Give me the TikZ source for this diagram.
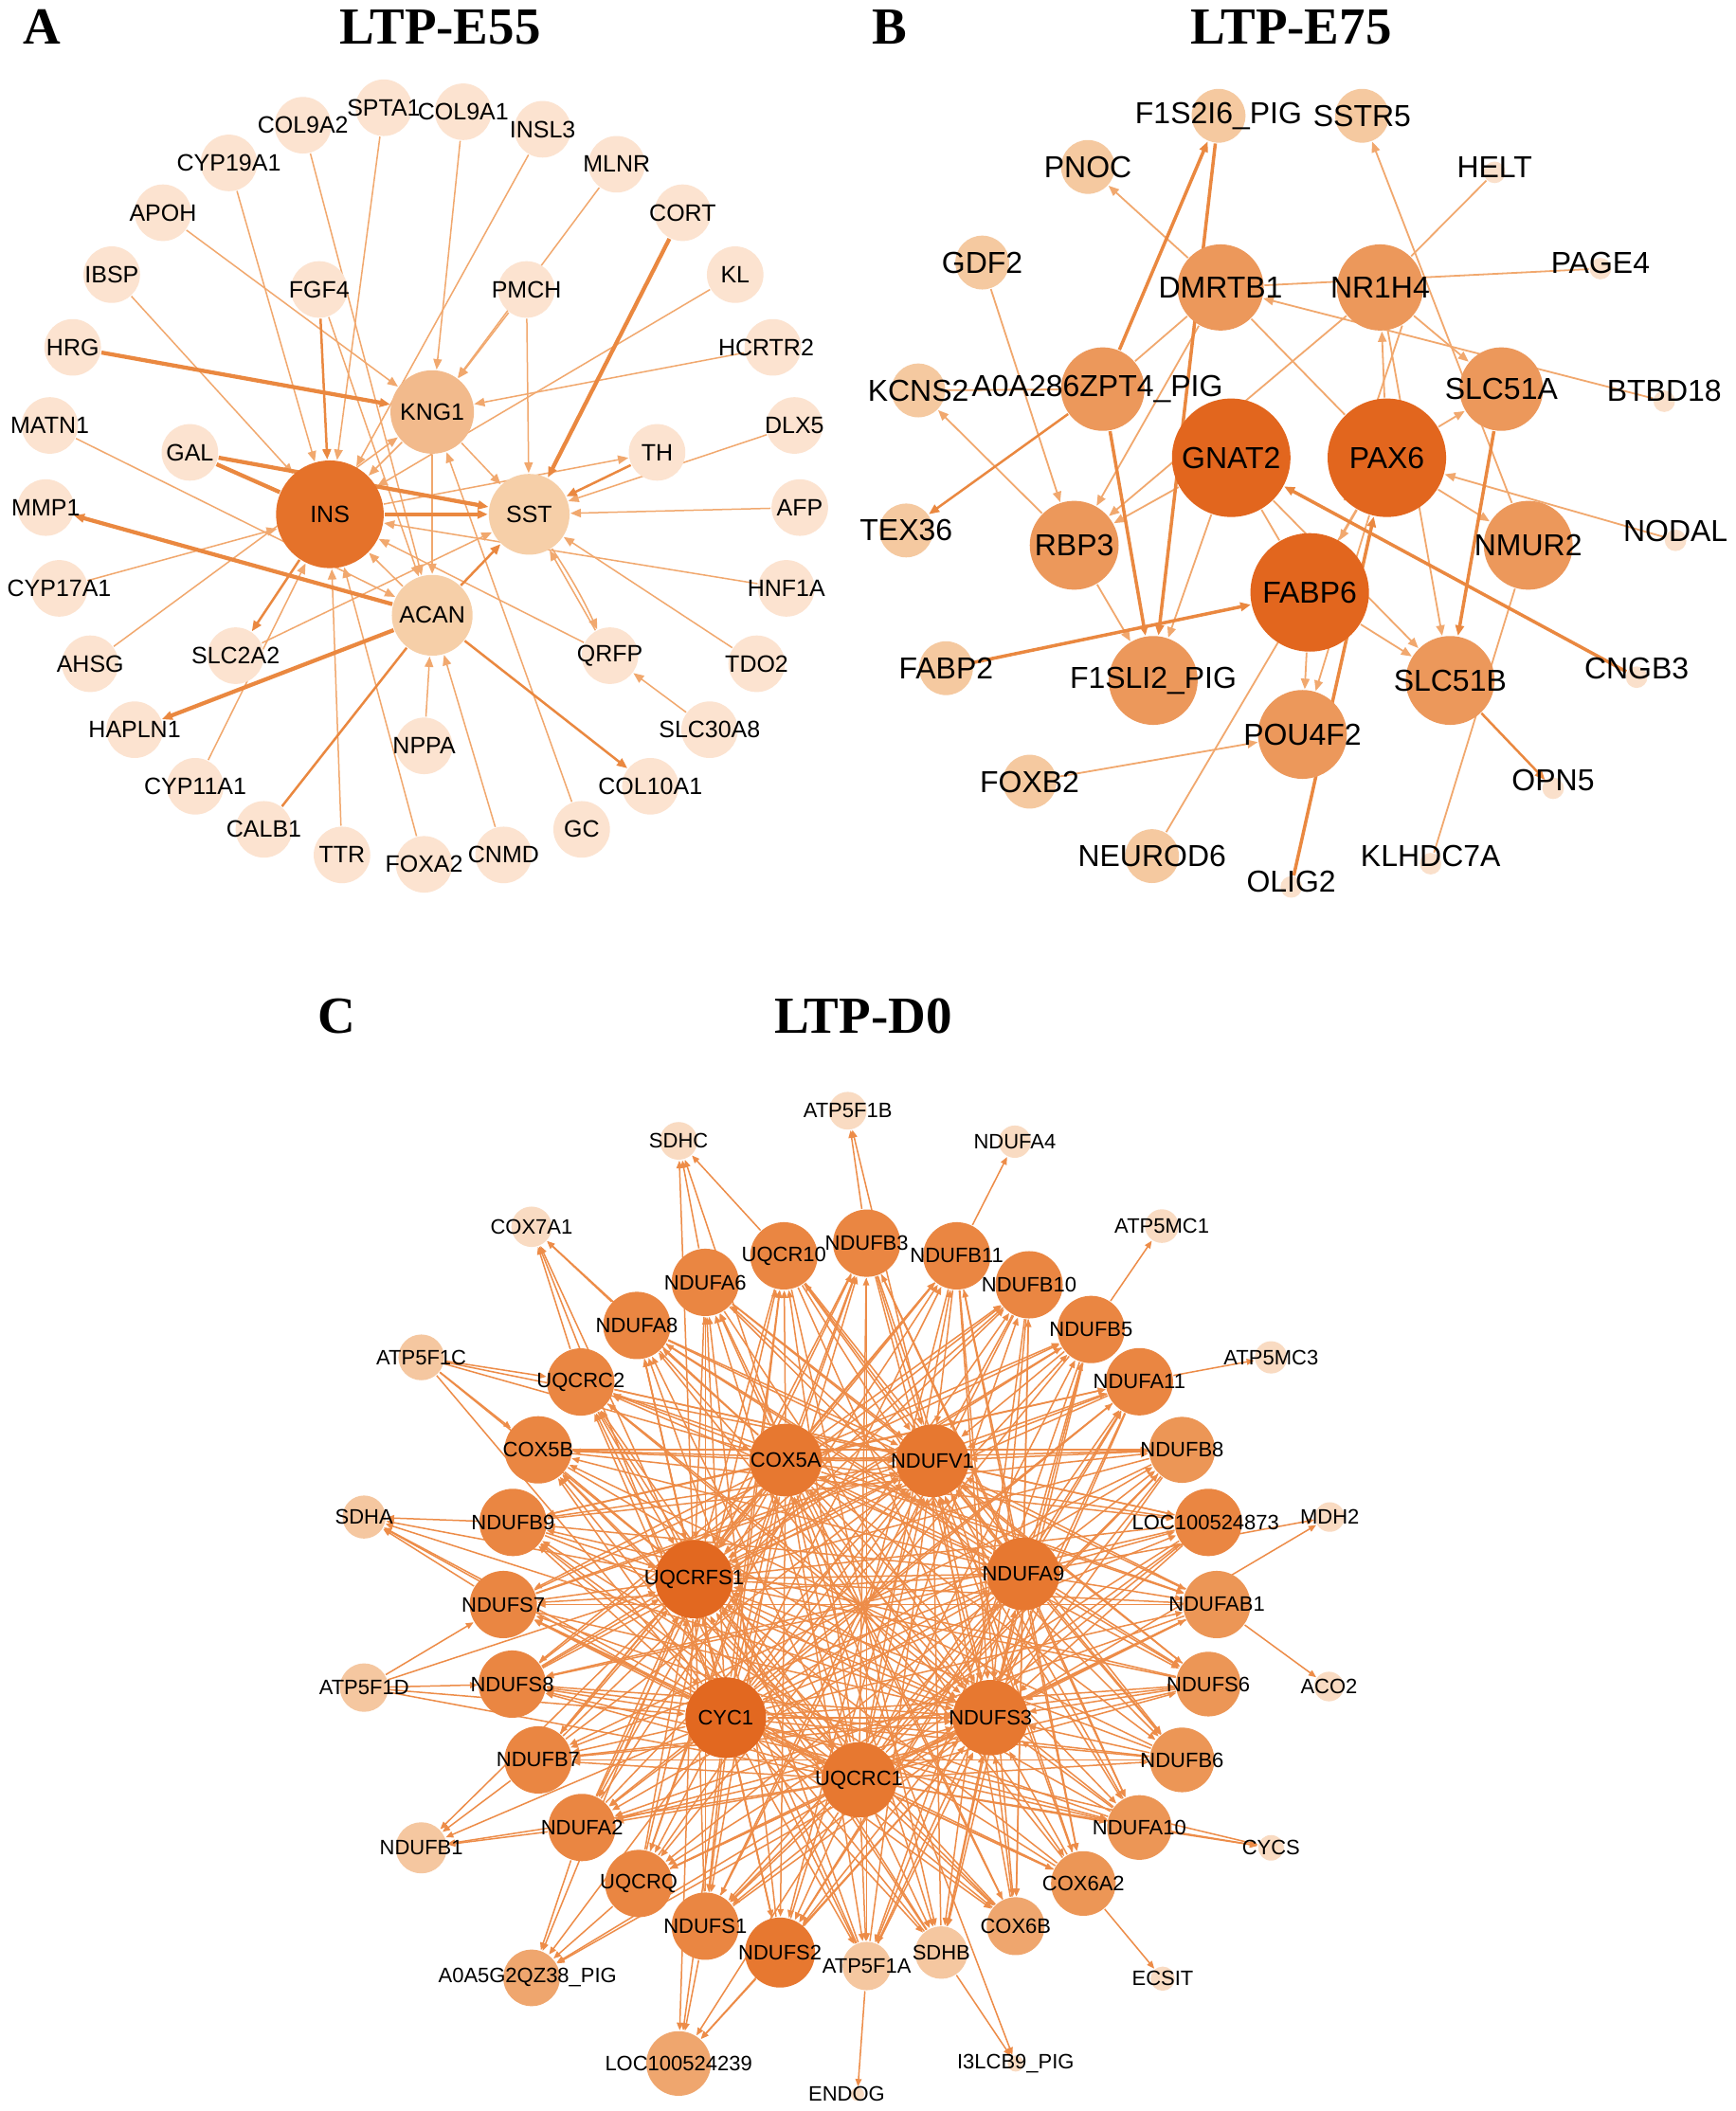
\documentclass[tikz,border=0pt]{standalone}
\usepackage{fontspec}
\setmainfont{Liberation Serif}
\setsansfont{Liberation Sans}
\usetikzlibrary{arrows.meta}
\pgfdeclarelayer{bg}\pgfdeclarelayer{fg}\pgfsetlayers{bg,main,fg}
\definecolor{aIn}{RGB}{229,114,42}
\definecolor{aKn}{RGB}{242,186,140}
\definecolor{aSs}{RGB}{246,207,168}
\definecolor{aSm}{RGB}{252,227,208}
\definecolor{bDk}{RGB}{226,102,30}
\definecolor{bMd}{RGB}{236,152,91}
\definecolor{bLt}{RGB}{245,201,160}
\definecolor{bPl}{RGB}{250,224,203}
\definecolor{cD1}{RGB}{226,104,32}
\definecolor{cD2}{RGB}{231,120,48}
\definecolor{cMd}{RGB}{234,134,66}
\definecolor{cML}{RGB}{236,150,86}
\definecolor{cLt}{RGB}{239,166,110}
\definecolor{cLL}{RGB}{245,199,160}
\definecolor{cPl}{RGB}{249,219,194}
\definecolor{eLt}{RGB}{241,168,110}
\definecolor{eDk}{RGB}{234,136,64}
\definecolor{ecC}{RGB}{237,140,72}
\tikzset{
 lA/.style={font=\sffamily\fontsize{5}{6}\selectfont,inner sep=0pt},
 lB/.style={font=\sffamily\fontsize{6.4}{7}\selectfont,inner sep=0pt},
 lC/.style={font=\sffamily\fontsize{4.4}{5}\selectfont,inner sep=0pt},
 ttl/.style={font=\fontsize{11}{12}\selectfont\bfseries,inner sep=0pt},
 eA/.style={draw=eLt,line width=0.3pt},
 eAm/.style={draw=eDk,line width=0.5pt},
 eAk/.style={draw=eDk,line width=0.85pt},
 ar/.style={-{Triangle[length=2.2pt,width=1.8pt]}},
 eC/.style={draw=ecC,line width=0.3pt,-{Triangle[length=1.6pt,width=1.3pt]}},
}
\newcommand\gnd[7]{%
 \node[circle,inner sep=0pt,minimum size={2*#4*0.01cm},fill=#5] (#1) at (#2,#3) {};%
 \begin{pgfonlayer}{fg}\node[#7] at (#1.center) {#6};\end{pgfonlayer}}
\begin{document}
\begin{tikzpicture}[x=0.01cm,y=-0.01cm]
\begin{pgfonlayer}{bg}\fill[white] (0,0) rectangle (1289,1568);\end{pgfonlayer}
\useasboundingbox (0,0) rectangle (1289,1568);
% titles
\node[ttl] (tA) at (31,20) {A};
\node[ttl] (tAt) at (327,20) {LTP-E55};
\node[ttl] (tB) at (661,20) {B};
\node[ttl] (tBt) at (959,20) {LTP-E75};
\node[ttl] (tC) at (250,755) {C};
\node[ttl] (tCt) at (641,755) {LTP-D0};
% ---------------- panel A nodes
\gnd{aSPT}{285}{80}{21}{aSm}{SPTA1}{lA}
\gnd{aC91}{344}{83}{21}{aSm}{COL9A1}{lA}
\gnd{aC92}{225}{93}{21}{aSm}{COL9A2}{lA}
\gnd{aINSL}{403}{96}{21}{aSm}{INSL3}{lA}
\gnd{aC19}{170}{121}{21}{aSm}{CYP19A1}{lA}
\gnd{aMLNR}{458}{122}{21}{aSm}{MLNR}{lA}
\gnd{aAPOH}{121}{158}{21}{aSm}{APOH}{lA}
\gnd{aCORT}{507}{158}{21}{aSm}{CORT}{lA}
\gnd{aIBSP}{83}{204}{21}{aSm}{IBSP}{lA}
\gnd{aKL}{546}{204}{21}{aSm}{KL}{lA}
\gnd{aFGF}{237}{215}{21}{aSm}{FGF4}{lA}
\gnd{aPMCH}{391}{215}{21}{aSm}{PMCH}{lA}
\gnd{aHRG}{54}{258}{21}{aSm}{HRG}{lA}
\gnd{aHCR}{574}{258}{21}{aSm}{HCRTR2}{lA,xshift=-0.05cm}
\gnd{aKNG}{321}{306}{31}{aKn}{KNG1}{lA}
\gnd{aMATN}{37}{316}{21}{aSm}{MATN1}{lA}
\gnd{aDLX}{590}{316}{21}{aSm}{DLX5}{lA}
\gnd{aGAL}{141}{336}{21}{aSm}{GAL}{lA}
\gnd{aTH}{488}{336}{21}{aSm}{TH}{lA}
\gnd{aINS}{245}{382}{40}{aIn}{INS}{lA}
\gnd{aSST}{393}{382}{30}{aSs}{SST}{lA}
\gnd{aMMP}{34}{377}{21}{aSm}{MMP1}{lA}
\gnd{aAFP}{594}{377}{21}{aSm}{AFP}{lA}
\gnd{aC17}{44}{437}{21}{aSm}{CYP17A1}{lA}
\gnd{aHNF}{584}{437}{21}{aSm}{HNF1A}{lA}
\gnd{aACAN}{321}{457}{30}{aSs}{ACAN}{lA}
\gnd{aAHSG}{67}{493}{21}{aSm}{AHSG}{lA}
\gnd{aSLC2}{175}{487}{21}{aSm}{SLC2A2}{lA}
\gnd{aQRFP}{453}{487}{21}{aSm}{QRFP}{lA}
\gnd{aTDO}{562}{493}{21}{aSm}{TDO2}{lA}
\gnd{aHAP}{100}{542}{21}{aSm}{HAPLN1}{lA}
\gnd{aNPPA}{315}{554}{21}{aSm}{NPPA}{lA}
\gnd{aS30}{527}{542}{21}{aSm}{SLC30A8}{lA}
\gnd{aC11}{145}{584}{21}{aSm}{CYP11A1}{lA}
\gnd{aC10}{483}{584}{21}{aSm}{COL10A1}{lA}
\gnd{aCALB}{196}{616}{21}{aSm}{CALB1}{lA}
\gnd{aGC}{432}{616}{21}{aSm}{GC}{lA}
\gnd{aTTR}{254}{635}{21}{aSm}{TTR}{lA}
\gnd{aFOX}{315}{642}{21}{aSm}{FOXA2}{lA}
\gnd{aCNMD}{374}{635}{21}{aSm}{CNMD}{lA}
% ---------------- panel B nodes
\gnd{bF1S2}{905}{86}{20}{bLt}{F1S2I6\_PIG}{lB}
\gnd{bSSTR5}{1011.6}{86}{20}{bLt}{SSTR5}{lB}
\gnd{bPNOC}{808}{124}{20}{bLt}{PNOC}{lB}
\gnd{bHELT}{1110}{128}{8}{bPl}{HELT}{lB,yshift=0.04cm}
\gnd{bGDF2}{729.5}{195}{20}{bLt}{GDF2}{lB}
\gnd{bPAGE4}{1188.6}{199.5}{8}{bPl}{PAGE4}{lB,yshift=0.045cm}
\gnd{bDMR}{906.5}{213.5}{32}{bMd}{DMRTB1}{lB}
\gnd{bNR1}{1025}{213.5}{32}{bMd}{NR1H4}{lB}
\gnd{bKCNS2}{682}{290}{20}{bLt}{KCNS2}{lB}
\gnd{bA0A}{819}{289}{31}{bMd}{A0A286ZPT4\_PIG}{lB,xshift=-0.04cm}
\gnd{bS51A}{1115}{289}{31}{bMd}{SLC51A}{lB}
\gnd{bBTBD}{1236}{298}{8}{bPl}{BTBD18}{lB,yshift=0.08cm}
\gnd{bGNAT}{914.4}{340}{44}{bDk}{GNAT2}{lB}
\gnd{bPAX}{1030}{340}{44}{bDk}{PAX6}{lB}
\gnd{bTEX}{673}{394}{20}{bLt}{TEX36}{lB}
\gnd{bRBP3}{797.8}{405}{33}{bMd}{RBP3}{lB}
\gnd{bNMUR}{1135}{405}{33}{bMd}{NMUR2}{lB}
\gnd{bNODAL}{1244.4}{401.3}{8}{bPl}{NODAL}{lB,yshift=0.07cm}
\gnd{bFABP6}{972.7}{440}{44}{bDk}{FABP6}{lB}
\gnd{bFABP2}{702.6}{496.3}{20}{bLt}{FABP2}{lB}
\gnd{bF1SLI}{856.5}{505.4}{33}{bMd}{F1SLI2\_PIG}{lB}
\gnd{bS51B}{1077}{505.4}{33}{bMd}{SLC51B}{lB}
\gnd{bCNGB}{1215.5}{503}{8}{bPl}{CNGB3}{lB,yshift=0.067cm}
\gnd{bPOU}{967.3}{545.5}{33}{bMd}{POU4F2}{lB}
\gnd{bFOXB}{764.7}{580.6}{20}{bLt}{FOXB2}{lB}
\gnd{bOPN5}{1153.5}{585.5}{8}{bPl}{OPN5}{lB,yshift=0.06cm}
\gnd{bNEU}{855.6}{635.9}{20}{bLt}{NEUROD6}{lB}
\gnd{bKLH}{1062.5}{641.5}{8}{bPl}{KLHDC7A}{lB,yshift=0.055cm}
\gnd{bOLIG}{959}{658.8}{8}{bPl}{OLIG2}{lB,yshift=0.042cm}
% ---------------- panel C nodes
\gnd{cATPb}{629.6}{825}{14}{cPl}{ATP5F1B}{lC}
\gnd{cSDHC}{504}{847.4}{14}{cPl}{SDHC}{lC}
\gnd{cA4}{753.7}{848}{12}{cPl}{NDUFA4}{lC}
\gnd{cX7}{394.8}{911.2}{15}{cPl}{COX7A1}{lC}
\gnd{cMC1}{862.9}{910.7}{12.5}{cPl}{ATP5MC1}{lC}
\gnd{cR10}{582.2}{932.8}{25}{cMd}{UQCR10}{lC}
\gnd{cB3}{643.7}{923.4}{25}{cMd}{NDUFB3}{lC}
\gnd{cB11}{710.6}{932.8}{25}{cMd}{NDUFB11}{lC}
\gnd{cA6}{523.8}{952.5}{25}{cMd}{NDUFA6}{lC}
\gnd{cB10}{764.3}{954.3}{25}{cMd}{NDUFB10}{lC}
\gnd{cA8}{473}{984.5}{25}{cMd}{NDUFA8}{lC}
\gnd{cB5}{810.3}{987.5}{25}{cMd}{NDUFB5}{lC}
\gnd{cATPc}{312.9}{1008.2}{17}{cLL}{ATP5F1C}{lC}
\gnd{cMC3}{944}{1008.2}{12}{cPl}{ATP5MC3}{lC}
\gnd{cRC2}{431.3}{1026.5}{25}{cMd}{UQCRC2}{lC}
\gnd{cA11}{846.2}{1026.3}{25}{cMd}{NDUFA11}{lC}
\gnd{cX5b}{399.7}{1076.9}{25}{cMd}{COX5B}{lC}
\gnd{cX5a}{583.6}{1084.5}{27}{cD2}{COX5A}{lC}
\gnd{cV1}{692.5}{1085}{27}{cD2}{NDUFV1}{lC}
\gnd{cB8}{877.9}{1076.9}{24.5}{cML}{NDUFB8}{lC}
\gnd{cSDHA}{270.4}{1126.8}{16}{cLL}{SDHA}{lC}
\gnd{cB9}{381}{1130.8}{25}{cMd}{NDUFB9}{lC}
\gnd{cL873}{897.4}{1130.8}{25}{cMd}{LOC100524873}{lC,xshift=-0.02cm}
\gnd{cMDH}{987.6}{1126.8}{11}{cPl}{MDH2}{lC}
\gnd{cFS1}{515.5}{1173}{29}{cD1}{UQCRFS1}{lC}
\gnd{cA9}{760}{1169}{27}{cD2}{NDUFA9}{lC}
\gnd{cS7}{373.8}{1191.8}{25}{cMd}{NDUFS7}{lC}
\gnd{cAB1}{903.7}{1191.8}{25}{cML}{NDUFAB1}{lC}
\gnd{cS8}{380.4}{1250.9}{25}{cMd}{NDUFS8}{lC}
\gnd{cATPd}{270.4}{1253.5}{18}{cLL}{ATP5F1D}{lC}
\gnd{cS6}{897.4}{1250.9}{24}{cML}{NDUFS6}{lC}
\gnd{cACO}{987}{1252.7}{11}{cPl}{ACO2}{lC}
\gnd{cC1}{539}{1275.8}{30}{cD1}{CYC1}{lC}
\gnd{cS3}{735.6}{1275.8}{28}{cD2}{NDUFS3}{lC}
\gnd{cB7}{399.7}{1307.2}{25}{cMd}{NDUFB7}{lC}
\gnd{cB6}{877.9}{1307.2}{24}{cML}{NDUFB6}{lC}
\gnd{cRC1}{638}{1322}{28}{cD2}{UQCRC1}{lC}
\gnd{cA2}{432.2}{1357.4}{25}{cMd}{NDUFA2}{lC}
\gnd{cA10}{846.2}{1357.4}{24}{cML}{NDUFA10}{lC}
\gnd{cB1}{312.9}{1372.5}{19}{cLL}{NDUFB1}{lC}
\gnd{cCYCS}{944}{1372.5}{9.5}{cPl}{CYCS}{lC}
\gnd{cRQ}{474.4}{1399}{25}{cMd}{UQCRQ}{lC}
\gnd{cX6a}{804.6}{1399}{24}{cML}{COX6A2}{lC}
\gnd{cS1}{523.8}{1430.7}{25}{cMd}{NDUFS1}{lC}
\gnd{cX6b}{754.3}{1430.7}{21.5}{cLt}{COX6B}{lC}
\gnd{cS2}{579.3}{1450.3}{26}{cD2}{NDUFS2}{lC}
\gnd{cSDHB}{699.1}{1450.3}{19.5}{cLL}{SDHB}{lC}
\gnd{cATPa}{643.7}{1460.3}{18}{cLL}{ATP5F1A}{lC}
\gnd{cQZ}{394.8}{1469.1}{21}{cLt}{A0A5G2QZ38\_PIG}{lC,xshift=-0.03cm}
\gnd{cECS}{863.5}{1469.7}{9}{cPl}{ECSIT}{lC}
\gnd{cL239}{504}{1532.7}{24}{cLt}{LOC100524239}{lC}
\gnd{cI3}{754.3}{1532.7}{6}{cPl}{I3LCB9\_PIG}{lC}
\gnd{cEND}{636.8}{1555.5}{5}{cPl}{ENDOG}{lC,xshift=-0.08cm}
% ---------------- edges
\begin{pgfonlayer}{bg}
% panel A
\foreach \s/\t in {aAPOH/aKNG,aIBSP/aINS,aC19/aINS,aC92/aACAN,aSPT/aINS,aC91/aKNG,aINSL/aINS,aMLNR/aKNG,aFGF/aACAN,aPMCH/aSST,aPMCH/aKNG,aHCR/aKNG,aKL/aINS,aDLX/aSST,aINS/aTH,aMATN/aACAN,aC17/aINS,aAHSG/aKNG,aSLC2/aSST,aC11/aINS,aTTR/aINS,aFOX/aINS,aNPPA/aACAN,aKNG/aACAN,aCNMD/aACAN,aGC/aKNG,aS30/aQRFP,aQRFP/aSST,aTDO/aSST,aHNF/aINS,aAFP/aSST,aACAN/aINS,aQRFP/aINS,aKNG/aINS,aKNG/aSST}
 \draw[eA,ar] (\s) -- (\t);
\draw[eA,ar] (aSST) to[bend left=4] (aQRFP);
\foreach \s/\t in {aACAN/aC10,aACAN/aSST,aINS/aSLC2,aFGF/aINS,aTH/aSST}
 \draw[eAm,ar] (\s) -- (\t);
\draw[eAm] (aCALB) -- (aACAN);
\foreach \s/\t in {aHRG/aKNG,aCORT/aSST,aGAL/aSST,aINS/aSST,aACAN/aMMP,aACAN/aHAP}
 \draw[eAk,ar] (\s) -- (\t);
\draw[eAk] (aGAL) -- (aINS);
% panel B
\foreach \s/\t in {bDMR/bPNOC,bNMUR/bSSTR5,bBTBD/bDMR,bNR1/bS51A,bNR1/bRBP3,bPAX/bNR1,bRBP3/bKCNS2,bGDF2/bRBP3,bPAX/bS51A,bNR1/bS51B,bNODAL/bPAX,bPAX/bNMUR,bFABP6/bS51B,bGNAT/bS51B,bFABP6/bPOU,bPAX/bPOU,bFOXB/bPOU,bRBP3/bF1SLI,bGNAT/bRBP3,bPAX/bFABP6,bGNAT/bF1SLI,bDMR/bRBP3}
 \draw[eA,line width=0.36pt,ar] (\s) -- (\t);
\foreach \s/\t in {bHELT/bNR1,bPAGE4/bDMR,bDMR/bA0A,bDMR/bPAX,bKCNS2/bA0A,bNEU/bPAX,bKLH/bNMUR,bGNAT/bFABP6}
 \draw[eA,line width=0.36pt] (\s) -- (\t);
\draw[eA,line width=0.36pt] (bPAX.225) -- (bNR1.300);
\foreach \s/\t in {bS51B/bOPN5,bA0A/bTEX}
 \draw[eAm,ar] (\s) -- (\t);
\foreach \s/\t in {bA0A/bF1S2,bF1S2/bF1SLI,bA0A/bF1SLI,bFABP2/bFABP6,bCNGB/bGNAT,bS51A/bS51B,bOLIG/bPAX}
 \draw[eAk,line width=0.7pt,ar] (\s) -- (\t);
% panel C hubs to ring
\foreach \h in {cC1,cRC1,cA9,cX5a}{
 \foreach \r in {cR10,cB3,cB11,cB10,cB5,cA11,cB8,cL873,cAB1,cS6,cB6,cA10,cX6a,cX6b,cSDHB,cATPa,cS2,cS1,cRQ,cA2,cB7,cS8,cS7,cB9,cX5b,cRC2,cA8,cA6}
  \draw[eC] (\h) -- (\r);
}
\foreach \h in {cFS1,cS3,cV1}{
 \foreach \r in {cR10,cB3,cB11,cB10,cB5,cA11,cB8,cL873,cAB1,cS6,cB6,cA10,cX6a,cX6b,cSDHB,cATPa,cS2,cS1,cRQ,cA2,cB7,cS8,cS7,cB9,cX5b,cRC2,cA8,cA6}
  \draw[eC] (\r) -- (\h);
}
\foreach \s/\t in {cC1/cFS1,cC1/cRC1,cC1/cS3,cC1/cA9,cC1/cV1,cC1/cX5a,cFS1/cRC1,cFS1/cS3,cFS1/cA9,cFS1/cV1,cFS1/cX5a,cRC1/cS3,cRC1/cA9,cRC1/cV1,cRC1/cX5a,cS3/cA9,cS3/cV1,cS3/cX5a,cA9/cV1,cA9/cX5a,cV1/cX5a,cX5a/cV1}
 \draw[eC] (\s) -- (\t);
\foreach \s/\t in {cR10/cSDHB,cB3/cATPa,cB11/cS2,cB10/cS1,cB5/cRQ,cA11/cA2,cB8/cB7,cL873/cS8,cAB1/cS7,cS6/cB9,cB6/cX5b,cA10/cRC2,cX6a/cA8,cX6b/cA6,cR10/cB6,cB3/cA10,cB11/cX6a,cB10/cX6b,cB5/cSDHB,cA11/cATPa,cB8/cS2,cL873/cS1,cAB1/cRQ,cS6/cA2,cB6/cB7,cA10/cS8,cX6a/cS7,cX6b/cB9,cSDHB/cX5b,cATPa/cRC2,cS2/cA8,cS1/cA6,cRQ/cR10,cA2/cB3,cB7/cB11,cS8/cB10,cS7/cB5,cB9/cA11,cX5b/cB8,cRC2/cL873,cA8/cAB1,cA6/cS6}
 \draw[eC] (\s) -- (\t);
\foreach \s/\t in {cR10/cA10,cB3/cX6a,cB11/cX6b,cB10/cSDHB,cB5/cATPa,cA11/cS2,cB8/cS1,cL873/cRQ,cAB1/cA2,cS6/cB7,cB6/cS8,cA10/cS7,cX6a/cB9,cX6b/cX5b,cSDHB/cRC2,cATPa/cA8,cS2/cA6,cS1/cR10,cRQ/cB3,cA2/cB11,cB7/cB10,cS8/cB5,cS7/cA11,cB9/cB8,cX5b/cL873,cRC2/cAB1,cA8/cS6,cA6/cB6}
 \draw[eC] (\s) -- (\t);
% panel C outer nodes
\foreach \s/\t in {cA6/cSDHC,cR10/cSDHC,cX5a/cSDHC,cFS1/cSDHC,cB3/cATPb,cV1/cATPb,cB11/cA4,cA8/cX7,cRC2/cX7,cFS1/cX7,cC1/cX7,cX5a/cX7,cB5/cMC1,cATPc/cRC2,cATPc/cX5a,cATPc/cV1,cATPc/cX5b,cATPc/cFS1,cATPc/cC1,cA11/cMC3,cB9/cSDHA,cFS1/cSDHA,cC1/cSDHA,cRC1/cSDHA,cS3/cSDHA,cS7/cSDHA,cS3/cMDH,cA9/cMDH,cATPd/cS7,cATPd/cS8,cATPd/cC1,cATPd/cRC1,cATPd/cFS1,cAB1/cACO,cB7/cB1,cA2/cB1,cFS1/cB1,cC1/cB1,cRC1/cB1,cRC1/cCYCS,cA10/cCYCS,cC1/cCYCS,cA2/cQZ,cRQ/cQZ,cC1/cQZ,cFS1/cQZ,cRC1/cQZ,cS3/cQZ,cX6a/cECS,cS1/cL239,cS2/cL239,cC1/cL239,cFS1/cL239,cRC1/cL239,cS3/cL239,cATPa/cEND,cSDHB/cI3,cX5a/cI3}
 \draw[eC] (\s) -- (\t);
\end{pgfonlayer}
\end{tikzpicture}
\end{document}
